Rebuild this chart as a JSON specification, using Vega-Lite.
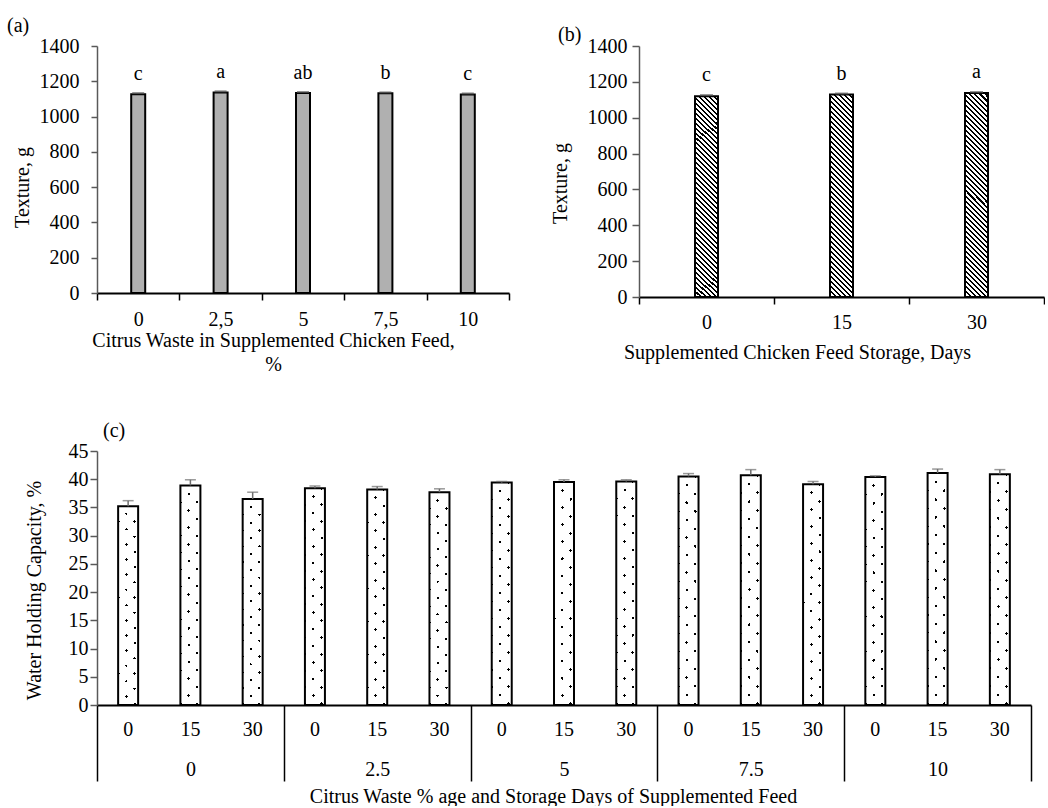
{
"$schema": "https://vega.github.io/schema/vega-lite/v6.json",
"padding": {"left": 7, "top": 16, "right": 0, "bottom": 0},
"spacing": 47,
"config": {
  "font": "Liberation Serif",
  "view": {"stroke": null},
  "axis": {"labelFont": "Liberation Serif", "titleFont": "Liberation Serif", "labelFontSize": 20, "titleFontSize": 20, "labelColor": "#000", "titleColor": "#000", "titleFontWeight": "normal", "grid": false},
  "title": {"font": "Liberation Serif", "fontSize": 20, "fontWeight": "normal", "color": "#000"},
  "text": {"font": "Liberation Serif"}
},
"datasets": {
  "a": [
    {"pct": "0", "tex": 1127, "hi": 1133, "letter": "c"},
    {"pct": "2,5", "tex": 1137, "hi": 1143, "letter": "a"},
    {"pct": "5", "tex": 1134, "hi": 1139, "letter": "ab"},
    {"pct": "7,5", "tex": 1132, "hi": 1137, "letter": "b"},
    {"pct": "10", "tex": 1125, "hi": 1131, "letter": "c"}
  ],
  "b": [
    {"day": "0", "tex": 1120, "hi": 1126, "letter": "c"},
    {"day": "15", "tex": 1129, "hi": 1135, "letter": "b"},
    {"day": "30", "tex": 1138, "hi": 1143, "letter": "a"}
  ],
  "c": [
    {"pct": "0", "day": "0", "key": "0|0", "whc": 35.2, "hi": 36.2},
    {"pct": "0", "day": "15", "key": "0|15", "whc": 38.9, "hi": 39.9},
    {"pct": "0", "day": "30", "key": "0|30", "whc": 36.5, "hi": 37.7},
    {"pct": "2.5", "day": "0", "key": "2.5|0", "whc": 38.4, "hi": 38.8},
    {"pct": "2.5", "day": "15", "key": "2.5|15", "whc": 38.2, "hi": 38.7},
    {"pct": "2.5", "day": "30", "key": "2.5|30", "whc": 37.7, "hi": 38.3},
    {"pct": "5", "day": "0", "key": "5|0", "whc": 39.4, "hi": 39.6},
    {"pct": "5", "day": "15", "key": "5|15", "whc": 39.5, "hi": 39.9},
    {"pct": "5", "day": "30", "key": "5|30", "whc": 39.6, "hi": 39.9},
    {"pct": "7.5", "day": "0", "key": "7.5|0", "whc": 40.5, "hi": 41.0},
    {"pct": "7.5", "day": "15", "key": "7.5|15", "whc": 40.7, "hi": 41.7},
    {"pct": "7.5", "day": "30", "key": "7.5|30", "whc": 39.1, "hi": 39.6},
    {"pct": "10", "day": "0", "key": "10|0", "whc": 40.4, "hi": 40.6},
    {"pct": "10", "day": "15", "key": "10|15", "whc": 41.1, "hi": 41.8},
    {"pct": "10", "day": "30", "key": "10|30", "whc": 40.9, "hi": 41.7}
  ]
},
"vconcat": [
  {
    "bounds": "flush",
    "spacing": 130,
    "hconcat": [
      {
        "width": 412, "height": 247,
        "title": {"text": "(a)", "anchor": "start", "frame": "group", "dx": -90, "offset": 0},
        "data": {"name": "a"},
        "encoding": {"x": {"field": "pct", "type": "nominal", "sort": null, "scale": {"paddingInner": 0, "paddingOuter": 0},
          "axis": {"title": ["Citrus Waste in Supplemented Chicken Feed,", "%"], "labelAngle": 0, "tickBand": "extent", "tickSize": 7, "tickWidth": 1.5, "tickColor": "#000", "domainColor": "#000", "domainWidth": 2, "labelPadding": 9, "titleX": 176, "titleY": 37, "titleAlign": "center", "titleBaseline": "top", "titleLineHeight": 24}}},
        "layer": [
          {"mark": {"type": "bar", "width": 14, "fill": "#b0b0b0", "stroke": "#000", "strokeWidth": 2},
           "encoding": {"y": {"field": "tex", "type": "quantitative", "scale": {"domain": [0, 1400]},
             "axis": {"values": [0, 200, 400, 600, 800, 1000, 1200, 1400], "format": "d", "title": "Texture, g", "domainColor": "#595959", "domainWidth": 1.5, "tickColor": "#595959", "tickWidth": 1.5, "tickSize": 6, "labelPadding": 12, "titleAngle": -90, "titleX": -75, "titleY": 141, "titleAlign": "center", "titleBaseline": "middle"}}}},
          {"mark": {"type": "tick", "color": "#595959", "size": 12, "thickness": 2},
           "encoding": {"y": {"field": "hi", "type": "quantitative",
             "axis": {"values": [0, 200, 400, 600, 800, 1000, 1200, 1400], "format": "d", "title": "Texture, g", "domainColor": "#595959", "domainWidth": 1.5, "tickColor": "#595959", "tickWidth": 1.5, "tickSize": 6, "labelPadding": 12, "titleAngle": -90, "titleX": -75, "titleY": 141, "titleAlign": "center", "titleBaseline": "middle"}}}},
          {"mark": {"type": "text", "fontSize": 20, "baseline": "alphabetic", "dy": -13},
           "encoding": {"y": {"field": "hi", "type": "quantitative",
             "axis": {"values": [0, 200, 400, 600, 800, 1000, 1200, 1400], "format": "d", "title": "Texture, g", "domainColor": "#595959", "domainWidth": 1.5, "tickColor": "#595959", "tickWidth": 1.5, "tickSize": 6, "labelPadding": 12, "titleAngle": -90, "titleX": -75, "titleY": 141, "titleAlign": "center", "titleBaseline": "middle"}}, "text": {"field": "letter"}}}
        ]
      },
      {
        "width": 405, "height": 251,
        "title": {"text": "(b)", "anchor": "start", "frame": "group", "dx": -81, "dy": 9, "offset": 0},
        "data": {"name": "b"},
        "encoding": {"x": {"field": "day", "type": "nominal", "sort": null, "scale": {"paddingInner": 0, "paddingOuter": 0},
          "axis": {"title": "Supplemented Chicken Feed Storage, Days", "labelAngle": 0, "tickBand": "extent", "tickSize": 7, "tickWidth": 1.5, "tickColor": "#000", "domainColor": "#000", "domainWidth": 2, "labelPadding": 8, "titleX": 158, "titleY": 45, "titleAlign": "center", "titleBaseline": "top"}}},
        "layer": [
          {"mark": {"type": "bar", "width": 23, "stroke": "#000", "strokeWidth": 2,
            "fill": {"gradient": "linear", "x1": 0, "y1": 1, "x2": 0.1245, "y2": -0.0992, "stops": [
              {"offset":0,"color":"#000"},{"offset":0.009,"color":"#000"},{"offset":0.009,"color":"#fff"},
              {"offset":0.0222,"color":"#fff"},{"offset":0.0222,"color":"#000"},{"offset":0.0312,"color":"#000"},{"offset":0.0312,"color":"#fff"},
              {"offset":0.0444,"color":"#fff"},{"offset":0.0444,"color":"#000"},{"offset":0.0534,"color":"#000"},{"offset":0.0534,"color":"#fff"},
              {"offset":0.0667,"color":"#fff"},{"offset":0.0667,"color":"#000"},{"offset":0.0757,"color":"#000"},{"offset":0.0757,"color":"#fff"},
              {"offset":0.0889,"color":"#fff"},{"offset":0.0889,"color":"#000"},{"offset":0.0979,"color":"#000"},{"offset":0.0979,"color":"#fff"},
              {"offset":0.1111,"color":"#fff"},{"offset":0.1111,"color":"#000"},{"offset":0.1201,"color":"#000"},{"offset":0.1201,"color":"#fff"},
              {"offset":0.1333,"color":"#fff"},{"offset":0.1333,"color":"#000"},{"offset":0.1423,"color":"#000"},{"offset":0.1423,"color":"#fff"},
              {"offset":0.1556,"color":"#fff"},{"offset":0.1556,"color":"#000"},{"offset":0.1646,"color":"#000"},{"offset":0.1646,"color":"#fff"},
              {"offset":0.1778,"color":"#fff"},{"offset":0.1778,"color":"#000"},{"offset":0.1868,"color":"#000"},{"offset":0.1868,"color":"#fff"},
              {"offset":0.2,"color":"#fff"},{"offset":0.2,"color":"#000"},{"offset":0.209,"color":"#000"},{"offset":0.209,"color":"#fff"},
              {"offset":0.2222,"color":"#fff"},{"offset":0.2222,"color":"#000"},{"offset":0.2312,"color":"#000"},{"offset":0.2312,"color":"#fff"},
              {"offset":0.2444,"color":"#fff"},{"offset":0.2444,"color":"#000"},{"offset":0.2534,"color":"#000"},{"offset":0.2534,"color":"#fff"},
              {"offset":0.2667,"color":"#fff"},{"offset":0.2667,"color":"#000"},{"offset":0.2757,"color":"#000"},{"offset":0.2757,"color":"#fff"},
              {"offset":0.2889,"color":"#fff"},{"offset":0.2889,"color":"#000"},{"offset":0.2979,"color":"#000"},{"offset":0.2979,"color":"#fff"},
              {"offset":0.3111,"color":"#fff"},{"offset":0.3111,"color":"#000"},{"offset":0.3201,"color":"#000"},{"offset":0.3201,"color":"#fff"},
              {"offset":0.3333,"color":"#fff"},{"offset":0.3333,"color":"#000"},{"offset":0.3423,"color":"#000"},{"offset":0.3423,"color":"#fff"},
              {"offset":0.3556,"color":"#fff"},{"offset":0.3556,"color":"#000"},{"offset":0.3646,"color":"#000"},{"offset":0.3646,"color":"#fff"},
              {"offset":0.3778,"color":"#fff"},{"offset":0.3778,"color":"#000"},{"offset":0.3868,"color":"#000"},{"offset":0.3868,"color":"#fff"},
              {"offset":0.4,"color":"#fff"},{"offset":0.4,"color":"#000"},{"offset":0.409,"color":"#000"},{"offset":0.409,"color":"#fff"},
              {"offset":0.4222,"color":"#fff"},{"offset":0.4222,"color":"#000"},{"offset":0.4312,"color":"#000"},{"offset":0.4312,"color":"#fff"},
              {"offset":0.4444,"color":"#fff"},{"offset":0.4444,"color":"#000"},{"offset":0.4534,"color":"#000"},{"offset":0.4534,"color":"#fff"},
              {"offset":0.4667,"color":"#fff"},{"offset":0.4667,"color":"#000"},{"offset":0.4757,"color":"#000"},{"offset":0.4757,"color":"#fff"},
              {"offset":0.4889,"color":"#fff"},{"offset":0.4889,"color":"#000"},{"offset":0.4979,"color":"#000"},{"offset":0.4979,"color":"#fff"},
              {"offset":0.5111,"color":"#fff"},{"offset":0.5111,"color":"#000"},{"offset":0.5201,"color":"#000"},{"offset":0.5201,"color":"#fff"},
              {"offset":0.5333,"color":"#fff"},{"offset":0.5333,"color":"#000"},{"offset":0.5423,"color":"#000"},{"offset":0.5423,"color":"#fff"},
              {"offset":0.5556,"color":"#fff"},{"offset":0.5556,"color":"#000"},{"offset":0.5646,"color":"#000"},{"offset":0.5646,"color":"#fff"},
              {"offset":0.5778,"color":"#fff"},{"offset":0.5778,"color":"#000"},{"offset":0.5868,"color":"#000"},{"offset":0.5868,"color":"#fff"},
              {"offset":0.6,"color":"#fff"},{"offset":0.6,"color":"#000"},{"offset":0.609,"color":"#000"},{"offset":0.609,"color":"#fff"},
              {"offset":0.6222,"color":"#fff"},{"offset":0.6222,"color":"#000"},{"offset":0.6312,"color":"#000"},{"offset":0.6312,"color":"#fff"},
              {"offset":0.6444,"color":"#fff"},{"offset":0.6444,"color":"#000"},{"offset":0.6534,"color":"#000"},{"offset":0.6534,"color":"#fff"},
              {"offset":0.6667,"color":"#fff"},{"offset":0.6667,"color":"#000"},{"offset":0.6757,"color":"#000"},{"offset":0.6757,"color":"#fff"},
              {"offset":0.6889,"color":"#fff"},{"offset":0.6889,"color":"#000"},{"offset":0.6979,"color":"#000"},{"offset":0.6979,"color":"#fff"},
              {"offset":0.7111,"color":"#fff"},{"offset":0.7111,"color":"#000"},{"offset":0.7201,"color":"#000"},{"offset":0.7201,"color":"#fff"},
              {"offset":0.7333,"color":"#fff"},{"offset":0.7333,"color":"#000"},{"offset":0.7423,"color":"#000"},{"offset":0.7423,"color":"#fff"},
              {"offset":0.7556,"color":"#fff"},{"offset":0.7556,"color":"#000"},{"offset":0.7646,"color":"#000"},{"offset":0.7646,"color":"#fff"},
              {"offset":0.7778,"color":"#fff"},{"offset":0.7778,"color":"#000"},{"offset":0.7868,"color":"#000"},{"offset":0.7868,"color":"#fff"},
              {"offset":0.8,"color":"#fff"},{"offset":0.8,"color":"#000"},{"offset":0.809,"color":"#000"},{"offset":0.809,"color":"#fff"},
              {"offset":0.8222,"color":"#fff"},{"offset":0.8222,"color":"#000"},{"offset":0.8312,"color":"#000"},{"offset":0.8312,"color":"#fff"},
              {"offset":0.8444,"color":"#fff"},{"offset":0.8444,"color":"#000"},{"offset":0.8534,"color":"#000"},{"offset":0.8534,"color":"#fff"},
              {"offset":0.8667,"color":"#fff"},{"offset":0.8667,"color":"#000"},{"offset":0.8757,"color":"#000"},{"offset":0.8757,"color":"#fff"},
              {"offset":0.8889,"color":"#fff"},{"offset":0.8889,"color":"#000"},{"offset":0.8979,"color":"#000"},{"offset":0.8979,"color":"#fff"},
              {"offset":0.9111,"color":"#fff"},{"offset":0.9111,"color":"#000"},{"offset":0.9201,"color":"#000"},{"offset":0.9201,"color":"#fff"},
              {"offset":0.9333,"color":"#fff"},{"offset":0.9333,"color":"#000"},{"offset":0.9423,"color":"#000"},{"offset":0.9423,"color":"#fff"},
              {"offset":0.9556,"color":"#fff"},{"offset":0.9556,"color":"#000"},{"offset":0.9646,"color":"#000"},{"offset":0.9646,"color":"#fff"},
              {"offset":0.9778,"color":"#fff"},{"offset":0.9778,"color":"#000"},{"offset":0.9868,"color":"#000"},{"offset":0.9868,"color":"#fff"},
              {"offset":1,"color":"#fff"}
            ]}},
           "encoding": {"y": {"field": "tex", "type": "quantitative", "scale": {"domain": [0, 1400]},
             "axis": {"values": [0, 200, 400, 600, 800, 1000, 1200, 1400], "format": "d", "title": "Texture, g", "domainColor": "#595959", "domainWidth": 1.5, "tickColor": "#595959", "tickWidth": 1.5, "tickSize": 7, "labelPadding": 5, "titleAngle": -90, "titleX": -79, "titleY": 137, "titleAlign": "center", "titleBaseline": "middle"}}}},
          {"mark": {"type": "tick", "color": "#595959", "size": 13, "thickness": 2},
           "encoding": {"y": {"field": "hi", "type": "quantitative",
             "axis": {"values": [0, 200, 400, 600, 800, 1000, 1200, 1400], "format": "d", "title": "Texture, g", "domainColor": "#595959", "domainWidth": 1.5, "tickColor": "#595959", "tickWidth": 1.5, "tickSize": 7, "labelPadding": 5, "titleAngle": -90, "titleX": -79, "titleY": 137, "titleAlign": "center", "titleBaseline": "middle"}}}},
          {"mark": {"type": "text", "fontSize": 20, "baseline": "alphabetic", "dy": -14},
           "encoding": {"y": {"field": "hi", "type": "quantitative",
             "axis": {"values": [0, 200, 400, 600, 800, 1000, 1200, 1400], "format": "d", "title": "Texture, g", "domainColor": "#595959", "domainWidth": 1.5, "tickColor": "#595959", "tickWidth": 1.5, "tickSize": 7, "labelPadding": 5, "titleAngle": -90, "titleX": -79, "titleY": 137, "titleAlign": "center", "titleBaseline": "middle"}}, "text": {"field": "letter"}}}
        ]
      }
    ]
  },
  {
    "width": 934, "height": 254,
    "title": {"text": "(c)", "anchor": "start", "frame": "group", "dx": 6, "offset": 0},
    "data": {"name": "c"},
    "layer": [
      {
        "encoding": {"x": {"field": "key", "type": "nominal", "sort": null, "scale": {"paddingInner": 0, "paddingOuter": 0},
          "axis": {"orient": "bottom", "title": null, "labelAngle": 0, "ticks": false, "domainColor": "#000", "domainWidth": 2, "labelPadding": 14, "labelExpr": "split(datum.label, '|')[1]"}}},
        "layer": [
          {"mark": {"type": "bar", "width": 20,
            "fill": {"gradient": "linear", "x1": 0, "y1": 1, "x2": 0.0998, "y2": -0.083, "stops": [
              {"offset":0,"color":"#000"},{"offset":0.0114,"color":"#000"},{"offset":0.0114,"color":"#fff"},
              {"offset":0.0688,"color":"#fff"},{"offset":0.0688,"color":"#000"},{"offset":0.0814,"color":"#000"},{"offset":0.0814,"color":"#fff"},
              {"offset":0.1388,"color":"#fff"},{"offset":0.1388,"color":"#000"},{"offset":0.1514,"color":"#000"},{"offset":0.1514,"color":"#fff"},
              {"offset":0.2089,"color":"#fff"},{"offset":0.2089,"color":"#000"},{"offset":0.2215,"color":"#000"},{"offset":0.2215,"color":"#fff"},
              {"offset":0.2789,"color":"#fff"},{"offset":0.2789,"color":"#000"},{"offset":0.2915,"color":"#000"},{"offset":0.2915,"color":"#fff"},
              {"offset":0.349,"color":"#fff"},{"offset":0.349,"color":"#000"},{"offset":0.3616,"color":"#000"},{"offset":0.3616,"color":"#fff"},
              {"offset":0.419,"color":"#fff"},{"offset":0.419,"color":"#000"},{"offset":0.4316,"color":"#000"},{"offset":0.4316,"color":"#fff"},
              {"offset":0.4891,"color":"#fff"},{"offset":0.4891,"color":"#000"},{"offset":0.5017,"color":"#000"},{"offset":0.5017,"color":"#fff"},
              {"offset":0.5591,"color":"#fff"},{"offset":0.5591,"color":"#000"},{"offset":0.5717,"color":"#000"},{"offset":0.5717,"color":"#fff"},
              {"offset":0.6291,"color":"#fff"},{"offset":0.6291,"color":"#000"},{"offset":0.6417,"color":"#000"},{"offset":0.6417,"color":"#fff"},
              {"offset":0.6992,"color":"#fff"},{"offset":0.6992,"color":"#000"},{"offset":0.7118,"color":"#000"},{"offset":0.7118,"color":"#fff"},
              {"offset":0.7692,"color":"#fff"},{"offset":0.7692,"color":"#000"},{"offset":0.7818,"color":"#000"},{"offset":0.7818,"color":"#fff"},
              {"offset":0.8393,"color":"#fff"},{"offset":0.8393,"color":"#000"},{"offset":0.8519,"color":"#000"},{"offset":0.8519,"color":"#fff"},
              {"offset":0.9093,"color":"#fff"},{"offset":0.9093,"color":"#000"},{"offset":0.9219,"color":"#000"},{"offset":0.9219,"color":"#fff"},
              {"offset":0.9794,"color":"#fff"},{"offset":0.9794,"color":"#000"},{"offset":0.992,"color":"#000"},{"offset":0.992,"color":"#fff"},
              {"offset":1,"color":"#fff"}
            ]}},
           "encoding": {"y": {"field": "whc", "type": "quantitative", "scale": {"domain": [0, 45]},
             "axis": {"values": [0, 5, 10, 15, 20, 25, 30, 35, 40, 45], "title": "Water Holding Capacity, %", "domainColor": "#595959", "domainWidth": 1.5, "tickColor": "#595959", "tickWidth": 1.5, "tickSize": 7, "labelPadding": 2, "titleAngle": -90, "titleX": -63, "titleY": 139, "titleAlign": "center", "titleBaseline": "middle"}}}},
          {"mark": {"type": "bar", "width": 20, "stroke": "#000", "strokeWidth": 2,
            "fill": {"gradient": "linear", "x1": 0, "y1": 0, "x2": 0.0998, "y2": 1.083, "stops": [
              {"offset":0,"color":"rgba(255,255,255,0)"},{"offset":0.0063,"color":"rgba(255,255,255,0)"},{"offset":0.0063,"color":"#fff"},
              {"offset":0.0637,"color":"#fff"},{"offset":0.0637,"color":"rgba(255,255,255,0)"},{"offset":0.0763,"color":"rgba(255,255,255,0)"},{"offset":0.0763,"color":"#fff"},
              {"offset":0.1338,"color":"#fff"},{"offset":0.1338,"color":"rgba(255,255,255,0)"},{"offset":0.1464,"color":"rgba(255,255,255,0)"},{"offset":0.1464,"color":"#fff"},
              {"offset":0.2038,"color":"#fff"},{"offset":0.2038,"color":"rgba(255,255,255,0)"},{"offset":0.2164,"color":"rgba(255,255,255,0)"},{"offset":0.2164,"color":"#fff"},
              {"offset":0.2739,"color":"#fff"},{"offset":0.2739,"color":"rgba(255,255,255,0)"},{"offset":0.2865,"color":"rgba(255,255,255,0)"},{"offset":0.2865,"color":"#fff"},
              {"offset":0.3439,"color":"#fff"},{"offset":0.3439,"color":"rgba(255,255,255,0)"},{"offset":0.3565,"color":"rgba(255,255,255,0)"},{"offset":0.3565,"color":"#fff"},
              {"offset":0.414,"color":"#fff"},{"offset":0.414,"color":"rgba(255,255,255,0)"},{"offset":0.4266,"color":"rgba(255,255,255,0)"},{"offset":0.4266,"color":"#fff"},
              {"offset":0.484,"color":"#fff"},{"offset":0.484,"color":"rgba(255,255,255,0)"},{"offset":0.4966,"color":"rgba(255,255,255,0)"},{"offset":0.4966,"color":"#fff"},
              {"offset":0.5541,"color":"#fff"},{"offset":0.5541,"color":"rgba(255,255,255,0)"},{"offset":0.5667,"color":"rgba(255,255,255,0)"},{"offset":0.5667,"color":"#fff"},
              {"offset":0.6241,"color":"#fff"},{"offset":0.6241,"color":"rgba(255,255,255,0)"},{"offset":0.6367,"color":"rgba(255,255,255,0)"},{"offset":0.6367,"color":"#fff"},
              {"offset":0.6941,"color":"#fff"},{"offset":0.6941,"color":"rgba(255,255,255,0)"},{"offset":0.7067,"color":"rgba(255,255,255,0)"},{"offset":0.7067,"color":"#fff"},
              {"offset":0.7642,"color":"#fff"},{"offset":0.7642,"color":"rgba(255,255,255,0)"},{"offset":0.7768,"color":"rgba(255,255,255,0)"},{"offset":0.7768,"color":"#fff"},
              {"offset":0.8342,"color":"#fff"},{"offset":0.8342,"color":"rgba(255,255,255,0)"},{"offset":0.8468,"color":"rgba(255,255,255,0)"},{"offset":0.8468,"color":"#fff"},
              {"offset":0.9043,"color":"#fff"},{"offset":0.9043,"color":"rgba(255,255,255,0)"},{"offset":0.9169,"color":"rgba(255,255,255,0)"},{"offset":0.9169,"color":"#fff"},
              {"offset":0.9743,"color":"#fff"},{"offset":0.9743,"color":"rgba(255,255,255,0)"},{"offset":0.9869,"color":"rgba(255,255,255,0)"},{"offset":0.9869,"color":"#fff"},
              {"offset":1,"color":"#fff"}
            ]}},
           "encoding": {"y": {"field": "whc", "type": "quantitative",
             "axis": {"values": [0, 5, 10, 15, 20, 25, 30, 35, 40, 45], "title": "Water Holding Capacity, %", "domainColor": "#595959", "domainWidth": 1.5, "tickColor": "#595959", "tickWidth": 1.5, "tickSize": 7, "labelPadding": 2, "titleAngle": -90, "titleX": -63, "titleY": 139, "titleAlign": "center", "titleBaseline": "middle"}}}},
          {"mark": {"type": "rule", "color": "#6e6e6e", "strokeWidth": 1.5},
           "encoding": {"y": {"field": "whc", "type": "quantitative",
             "axis": {"values": [0, 5, 10, 15, 20, 25, 30, 35, 40, 45], "title": "Water Holding Capacity, %", "domainColor": "#595959", "domainWidth": 1.5, "tickColor": "#595959", "tickWidth": 1.5, "tickSize": 7, "labelPadding": 2, "titleAngle": -90, "titleX": -63, "titleY": 139, "titleAlign": "center", "titleBaseline": "middle"}}, "y2": {"field": "hi"}}},
          {"mark": {"type": "tick", "color": "#6e6e6e", "size": 11, "thickness": 1.5},
           "encoding": {"y": {"field": "hi", "type": "quantitative",
             "axis": {"values": [0, 5, 10, 15, 20, 25, 30, 35, 40, 45], "title": "Water Holding Capacity, %", "domainColor": "#595959", "domainWidth": 1.5, "tickColor": "#595959", "tickWidth": 1.5, "tickSize": 7, "labelPadding": 2, "titleAngle": -90, "titleX": -63, "titleY": 139, "titleAlign": "center", "titleBaseline": "middle"}}}}
        ]
      },
      {
        "mark": {"type": "tick", "opacity": 0},
        "encoding": {
          "x": {"field": "pct", "type": "nominal", "sort": null, "scale": {"paddingInner": 0, "paddingOuter": 0},
            "axis": {"orient": "bottom", "title": "Citrus Waste % age and Storage Days of Supplemented Feed", "domain": false, "labelAngle": 0, "tickBand": "extent", "tickSize": 76, "tickWidth": 1.5, "tickColor": "#000", "labelPadding": -22, "titleX": 456, "titleY": 81, "titleAlign": "center", "titleBaseline": "top"}},
          "y": {"field": "whc", "type": "quantitative",
            "axis": {"values": [0, 5, 10, 15, 20, 25, 30, 35, 40, 45], "title": "Water Holding Capacity, %", "domainColor": "#595959", "domainWidth": 1.5, "tickColor": "#595959", "tickWidth": 1.5, "tickSize": 7, "labelPadding": 2, "titleAngle": -90, "titleX": -63, "titleY": 139, "titleAlign": "center", "titleBaseline": "middle"}}
        }
      }
    ],
    "resolve": {"scale": {"x": "independent"}}
  }
]
}
